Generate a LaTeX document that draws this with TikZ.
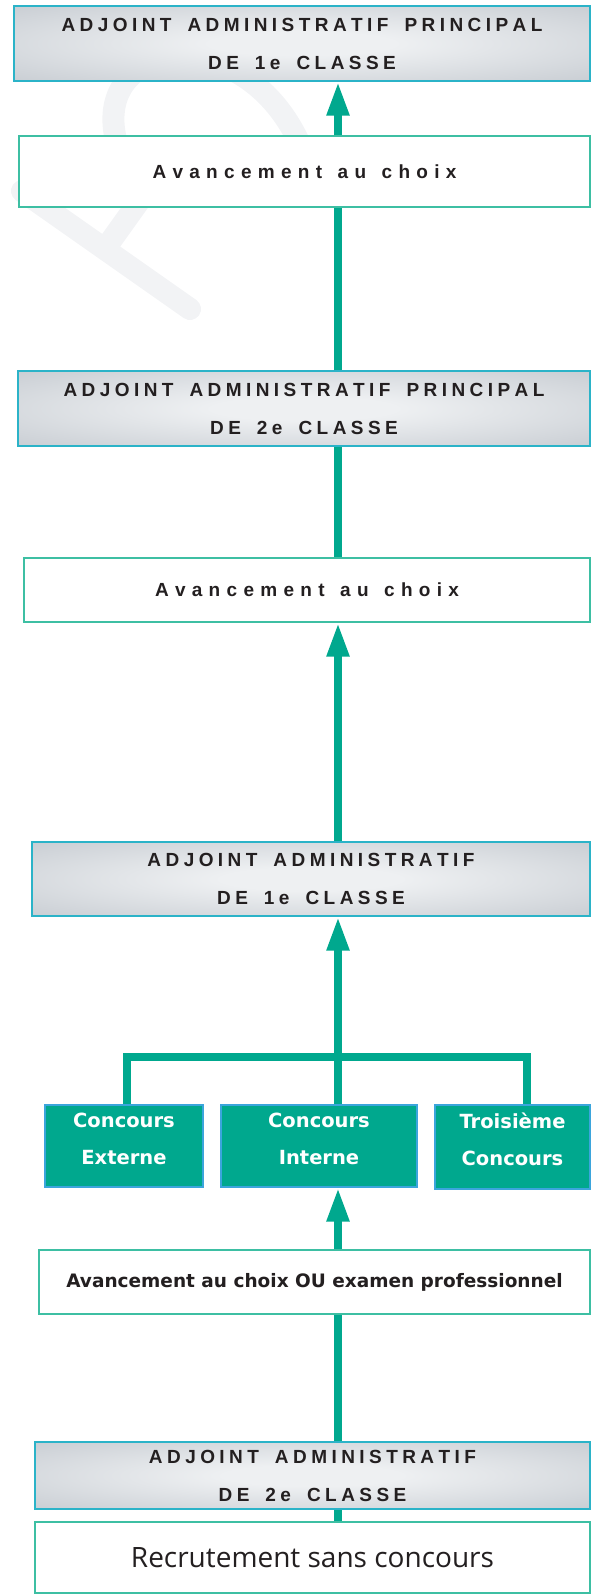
\documentclass[tikz,border=0pt]{standalone}
\usepackage{fontspec}
\setmainfont{Liberation Sans}
\newfontfamily\hdrfont{Liberation Sans}
\newfontfamily\dvfont{DejaVu Sans}
\newfontfamily\recfont{Open Sans}
\ExplSyntaxOn
\NewDocumentCommand \spreadw { m m } { \tl_map_inline:nn {#2} { ##1 \kern #1 } \unkern }
\ExplSyntaxOff
\newcommand\hw[1]{\spreadw{4.44pt}{#1}}
\newcommand\aw[1]{\spreadw{6.3pt}{#1}}
\newcommand\hgap{\hspace{16pt}}
\newcommand\agap{\hspace{15.5pt}}
\usetikzlibrary{arrows.meta}
\definecolor{tealA}{HTML}{00A88E}
\definecolor{hdrborder}{HTML}{2BB3C8}
\definecolor{avborder}{HTML}{3DBFA3}
\definecolor{cborder}{HTML}{3BA5DC}
\definecolor{txt}{HTML}{231F20}
\definecolor{wm}{HTML}{F2F3F5}
\definecolor{shL}{HTML}{EEF0F2}
\definecolor{shM}{HTML}{C6CBD1}
\definecolor{shD}{HTML}{A0A6AE}
\pgfdeclareradialshading{hdrshade}{\pgfpoint{0bp}{0bp}}{color(0bp)=(shL); color(8bp)=(shL); color(38bp)=(shM); color(50bp)=(shD); color(75bp)=(shD)}
\begin{document}
\begin{tikzpicture}[x=1pt,y=-1pt,
  hdr/.style={rectangle, draw=hdrborder, line width=1.3pt, shade, shading=hdrshade, inner sep=0pt, align=center, text=txt, font=\hdrfont\bfseries\fontsize{19}{38}\selectfont},
  avbox/.style={rectangle, draw=avborder, fill=white, line width=1.3pt, inner sep=0pt, align=center, text=txt, font=\hdrfont\bfseries\fontsize{19}{20}\selectfont},
  cbox/.style={rectangle, draw=cborder, fill=tealA, line width=1.2pt, inner sep=0pt},
  ctext/.style={inner sep=0pt, align=center, text=white, font=\dvfont\bfseries\fontsize{19.5}{37}\selectfont},
  conn/.style={draw=tealA, line width=8pt},
  uparrow/.style={-{Triangle[length=34pt,width=21pt]}},
  wmark/.style={draw=wm, line width=22pt, line cap=round}
]
\useasboundingbox (0,0) rectangle (597,1595);
% watermark
\draw[wmark] (22,191) -- (190,309);
\draw[wmark] (110,242) -- (165,165);
\draw[wmark] (116,140) .. controls (92,40) and (240,20) .. (298,140);
% column of the main connector
\coordinate (col) at (338,0);
% boxes
\node[hdr, minimum width=576pt, minimum height=75pt] (T1) at (302,43.5) {\hw{ADJOINT}\hgap\hw{ADMINISTRATIF}\hgap\hw{PRINCIPAL}\\\hw{DE}\hgap\hw{1e}\hgap\hw{CLASSE}};
\node[avbox, minimum width=571pt, minimum height=71pt] (A1) at (304.5,171.5) {\aw{Avancement}\agap\aw{au}\agap\aw{choix}};
\node[hdr, minimum width=572pt, minimum height=75pt] (T2) at (304,408.5) {\hw{ADJOINT}\hgap\hw{ADMINISTRATIF}\hgap\hw{PRINCIPAL}\\\hw{DE}\hgap\hw{2e}\hgap\hw{CLASSE}};
\node[avbox, minimum width=566pt, minimum height=64pt] (A2) at (307,590) {\aw{Avancement}\agap\aw{au}\agap\aw{choix}};
\node[hdr, minimum width=558pt, minimum height=74pt] (T3) at (311,879) {\hw{ADJOINT}\hgap\hw{ADMINISTRATIF}\\\hw{DE}\hgap\hw{1e}\hgap\hw{CLASSE}};
\node[cbox, minimum width=158pt, minimum height=82pt] (CA) at (124,1146) {};
\node[cbox, minimum width=196pt, minimum height=82pt] (CB) at (319,1146) {};
\node[cbox, minimum width=155pt, minimum height=84pt] (CC) at (512.5,1147) {};
\node[ctext] (CAt) at (124,1139) {Concours\\Externe};
\node[ctext] (CBt) at (319,1139) {Concours\\Interne};
\node[ctext] (CCt) at (512.5,1139) {Troisième\\Concours};
\node[avbox, font=\dvfont\bfseries\fontsize{18.5}{20}\selectfont, minimum width=551pt, minimum height=64pt] (OU) at (314.5,1282) {Avancement au choix OU examen professionnel};
\node[hdr, minimum width=555pt, minimum height=67pt] (T4) at (312.5,1475.5) {\hw{ADJOINT}\hgap\hw{ADMINISTRATIF}\\\hw{DE}\hgap\hw{2e}\hgap\hw{CLASSE}};
\node[avbox, font=\recfont\fontsize{28}{30}\selectfont, minimum width=555pt, minimum height=71pt] (R) at (312.5,1557.5) {Recrutement sans concours};
% connectors
\draw[conn, uparrow] (col |- A1.north) -- (col |- T1.south);
\draw[conn] (col |- T2.north) -- (col |- A1.south);
\draw[conn] (col |- A2.north) -- (col |- T2.south);
\draw[conn, uparrow] (col |- T3.north) -- (col |- A2.south);
\draw[conn, uparrow] (col |- CB.north) -- (col |- T3.south);
\coordinate (barL) at (127,1057);
\coordinate (barR) at (527,1057);
\draw[conn, line join=miter] (barL |- CA.north) -- (barL) -- (barR) -- (barR |- CC.north);
\draw[conn, uparrow] (col |- OU.north) -- (col |- CB.south);
\draw[conn] (col |- T4.north) -- (col |- OU.south);
\draw[conn] (col |- R.north) -- (col |- T4.south);
\end{tikzpicture}
\end{document}
